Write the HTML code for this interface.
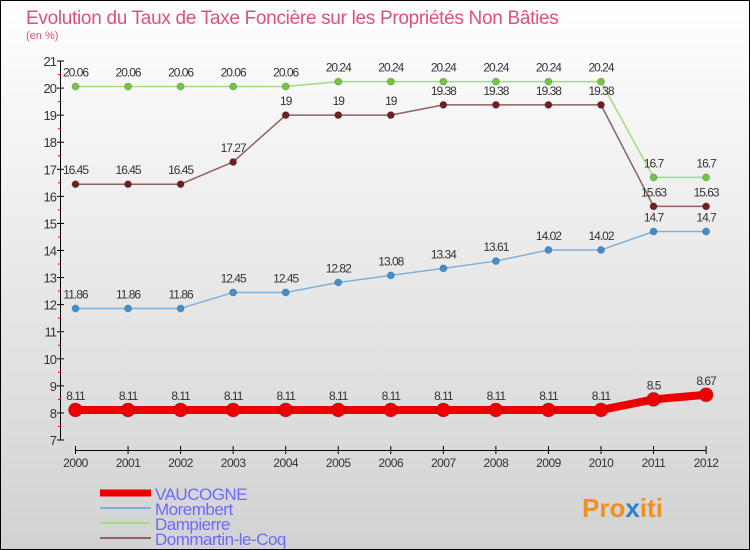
<!DOCTYPE html>
<html><head><meta charset="utf-8"><style>
body{margin:0}
#c{width:750px;height:550px;position:relative;font-family:"Liberation Sans",sans-serif;overflow:hidden}
</style></head><body>
<div id="c">
<svg id="s" width="750" height="550" xmlns="http://www.w3.org/2000/svg">
<defs><linearGradient id="bg" x1="0" y1="0" x2="0" y2="1"><stop offset="0" stop-color="#ffffff"/><stop offset="1" stop-color="#d2d2d2"/></linearGradient></defs>
<rect x="0.5" y="0.5" width="749" height="549" fill="url(#bg)" stroke="#000"/>
<text x="26" y="24" font-size="19" fill="#e0507a" letter-spacing="-0.3">Evolution du Taux de Taxe Foncière sur les Propriétés Non Bâties</text>
<text x="26" y="39" font-size="11" fill="#e0507a">(en %)</text>
<g id="axes"></g><g id="series"></g><g id="legend"></g>
<text x="582" y="517" font-size="26" font-weight="bold" fill="#f09020">Pro<tspan fill="#3080d0">x</tspan>iti</text>
</svg></div>
<script>
const years=[2000,2001,2002,2003,2004,2005,2006,2007,2008,2009,2010,2011,2012];
const vaucogne=[8.11,8.11,8.11,8.11,8.11,8.11,8.11,8.11,8.11,8.11,8.11,8.5,8.67];
const morembert=[11.86,11.86,11.86,12.45,12.45,12.82,13.08,13.34,13.61,14.02,14.02,14.7,14.7];
const dampierre=[20.06,20.06,20.06,20.06,20.06,20.24,20.24,20.24,20.24,20.24,20.24,16.7,16.7];
const dommartin=[16.45,16.45,16.45,17.27,19,19,19,19.38,19.38,19.38,19.38,15.63,15.63];
const yTicks=[7,8,9,10,11,12,13,14,15,16,17,18,19,20,21];
const NS="http://www.w3.org/2000/svg";
const x=i=>75.5+i*52.55;
const y=v=>440-(v-7)*27.07;
function mk(t,a,p){const e=document.createElementNS(NS,t);for(const k in a)e.setAttribute(k,a[k]);p.appendChild(e);return e;}
const ax=document.getElementById('axes');
let l=mk('line',{x1:60.5,y1:y(21),x2:60.5,y2:y(7),stroke:'#000'},ax);


yTicks.forEach(v=>{mk('line',{x1:57,x2:64,y1:y(v),y2:y(v),stroke:'#000'},ax);
 if(v<21)mk('line',{x1:58,x2:61,y1:y(v+0.5),y2:y(v+0.5),stroke:'#e00'},ax);
 const t=mk('text',{x:56,y:y(v)+5,'text-anchor':'end','font-size':13,fill:'#333','letter-spacing':'-1'},ax);t.textContent=v;
 
 });
l=mk('line',{x1:75,y1:450.5,x2:706,y2:450.5,stroke:'#000'},ax);


years.forEach((yr,i)=>{mk('line',{x1:x(i),x2:x(i),y1:446,y2:454,stroke:'#000'},ax);
 const t=mk('text',{x:x(i),y:467,'text-anchor':'middle','font-size':12,fill:'#333','letter-spacing':'-0.5'},ax);t.textContent=yr;
 
 });
const sg=document.getElementById('series');
function series(name,data,color,dot,w,r){
 const g=mk('g',{},sg);
 
 
 mk('polyline',{points:data.map((v,i)=>x(i)+','+y(v)).join(' '),fill:'none',stroke:color,'stroke-width':w,'stroke-linejoin':'round'},g);
 data.forEach((v,i)=>{const c=mk('circle',{cx:x(i),cy:y(v),r:r,fill:dot,stroke:'#0003'},g);
  
  
  const t=mk('text',{x:x(i),y:y(v)-10,'text-anchor':'middle','font-size':12,fill:'#333','letter-spacing':'-1'},g);t.textContent=v;
  
  });
}
series('dampierre',dampierre,'#a0dc80','#70c840',1.5,3.5);
series('dommartin',dommartin,'#906060','#702020',1.5,3.5);
series('morembert',morembert,'#80b0d8','#4090d0',1.5,3.5);
series('vaucogne',vaucogne,'#ee0000','#ee0000',8,7);
const lg=document.getElementById('legend');
const leg=[['VAUCOGNE','#ee0000',7],['Morembert','#80b0d8',2],['Dampierre','#a0dc80',2],['Dommartin-le-Coq','#906060',2]];
leg.forEach((e,i)=>{const yy=[493,508,523,538][i];
 const g=mk('g',{},lg);
 
 
 mk('line',{x1:100,x2:151,y1:yy,y2:yy,stroke:e[1],'stroke-width':e[2]},g);
 const t=mk('text',{x:155,y:yy+7,'font-size':17,fill:'#6a6aff','letter-spacing':'-0.5'},g);t.textContent=e[0];});
</script>
</body></html>
